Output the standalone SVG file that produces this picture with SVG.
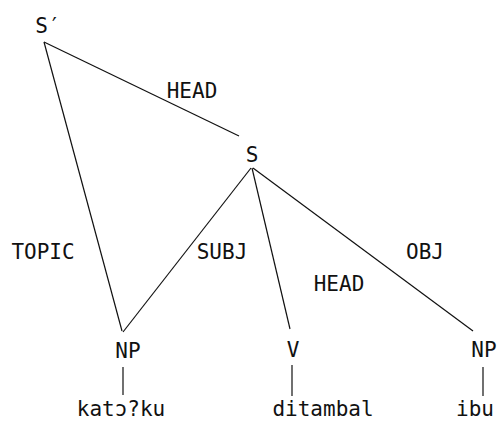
<svg xmlns="http://www.w3.org/2000/svg" width="499" height="423" viewBox="0 0 499 423">
<style>
text{font-family:"DejaVu Sans Mono","Liberation Mono",monospace;font-size:21px;fill:#111;text-anchor:middle}
line{stroke:#111;stroke-width:1.2;fill:none}
</style>
<rect width="499" height="423" fill="#fff"/>
<g id="connectors">
<line x1="44" y1="42" x2="239" y2="136"/>
<line x1="44" y1="42" x2="122" y2="331"/>
<line x1="251" y1="168" x2="123" y2="332"/>
<line x1="252" y1="168" x2="290" y2="329"/>
<line x1="253" y1="168" x2="473" y2="331"/>
<line x1="123" y1="367" x2="123" y2="395"/>
<line x1="292" y1="365" x2="292" y2="396"/>
<line x1="483" y1="367" x2="483" y2="396"/>
</g>
<g id="edge-labels">
<text x="192" y="98">HEAD</text>
<text x="43" y="259">TOPIC</text>
<text x="222" y="259">SUBJ</text>
<text x="425" y="259">OBJ</text>
<text x="339" y="291">HEAD</text>
</g>
<g id="node-Sprime"><text x="48" y="33">S′</text></g>
<g id="node-S"><text x="252" y="162">S</text></g>
<g id="node-NP1"><text x="128" y="358">NP</text></g>
<g id="node-V"><text x="293" y="357">V</text></g>
<g id="node-NP2"><text x="484" y="357">NP</text></g>
<g id="word-katoku"><text x="121" y="416">katɔ?ku</text></g>
<g id="word-ditambal"><text x="323" y="416">ditambal</text></g>
<g id="word-ibu"><text x="475" y="416">ibu</text></g>
</svg>
